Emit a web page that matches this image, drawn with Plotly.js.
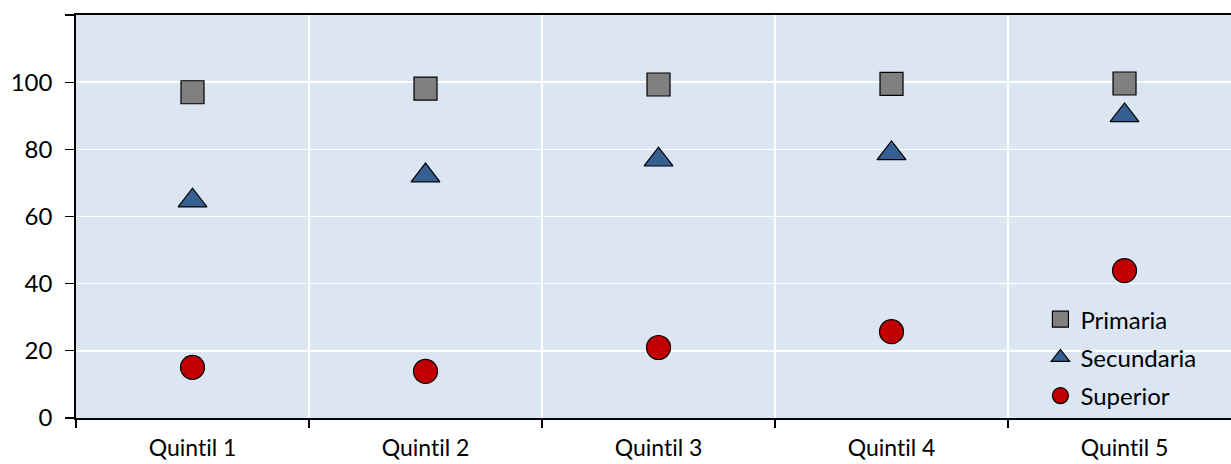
<!DOCTYPE html>
<html><head><meta charset="utf-8">
<script src="https://cdn.plot.ly/plotly-3.0.1.min.js"></script>
<style>html,body{margin:0;padding:0;background:#fff;}#chart{width:1231px;height:464px;}
svg text{font-variant-ligatures:none;font-feature-settings:"liga" 0, "clig" 0;}</style>
</head><body><div id="chart"></div>
<script>
const categories = ["Quintil 1","Quintil 2","Quintil 3","Quintil 4","Quintil 5"];
const primaria = [97.0, 98.1, 99.3, 99.5, 99.6];
const secundaria = [64.7, 72.2, 76.9, 78.8, 90.1];
const superior = [15.1, 13.9, 21.0, 25.7, 43.9];
const yTickVals = [0,20,40,60,80,100,120];
const yTickText = ["0","20","40","60","80","100",""];

const font = {family: "Lato, 'Open Sans', sans-serif", size: 24, color: "#000"};
function tr(name, y, symbol, color, size, grp){
  return {type:"scatter", mode:"markers", name:name, x:categories, y:y, legendgroup:grp,
    marker:{symbol:symbol, color:color, size:size, line:{color:"#000", width:1.2}}, cliponaxis:false};
}
const data = [
  tr("Primaria", primaria, "square", "#808080", 23, "a"),
  tr("Secundaria", secundaria, "triangle-up", "#376092", 25, "b"),
  tr("Superior", superior, "circle", "#C00000", 24, "c")
];
const layout = {
  width:1231, height:464,
  margin:{l:76, r:0, t:15, b:46},
  paper_bgcolor:"#fff", plot_bgcolor:"#DCE6F2",
  font:font,
  showlegend:true,
  legend:{x:0.835, y:0.30, xanchor:"left", yanchor:"top", bgcolor:"rgba(0,0,0,0)",
    font:{family:font.family, size:24, color:"#000"}, tracegroupgap:4, traceorder:"grouped", itemwidth:30},
  xaxis:{type:"category", range:[-0.5, 4.457], tickson:"boundaries", ticks:"outside", ticklen:8,
    tickcolor:"#000", tickwidth:1.2, showgrid:true, gridcolor:"#fff", gridwidth:1.5,
    showline:true, linecolor:"#000", linewidth:1.8, mirror:true, zeroline:false,
    tickfont:{family:font.family, size:23, color:"#000"}, ticklabelstandoff:9, fixedrange:true},
  yaxis:{range:[0,120], tickvals:yTickVals, ticktext:yTickText, ticks:"outside", ticklen:9,
    tickcolor:"#000", tickwidth:1.2, showgrid:true, gridcolor:"#fff", gridwidth:1.5,
    showline:true, linecolor:"#000", linewidth:1.8, zeroline:false,
    tickfont:{family:font.family, size:24, color:"#000"}, ticklabelstandoff:8, fixedrange:true}
};
Plotly.newPlot("chart", data, layout, {displayModeBar:false, staticPlot:true});
</script></body></html>
